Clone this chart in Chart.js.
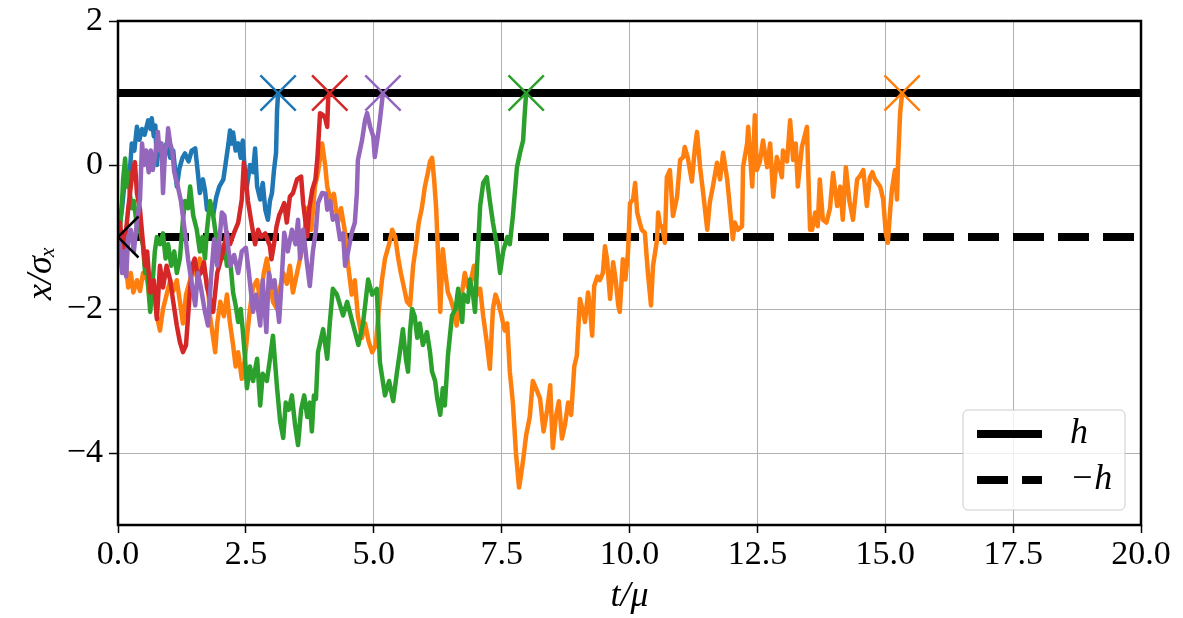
<!DOCTYPE html>
<html>
<head>
<meta charset="utf-8">
<script src="https://cdn.jsdelivr.net/npm/chart.js@4.4.1/dist/chart.umd.min.js"></script>
<style>
    html, body { margin: 0; padding: 0; background: #fff; }
    canvas { display: block; }
</style>
</head>
<body>
<canvas id="myChart" width="1183" height="618"></canvas>
<script>
// first-passage walks, [t/mu, x/sigma_x]
const blueWalk = [[0,-1],[0.04,-0.8],[0.08,-0.6],[0.12,-0.3],[0.17,-0.1],[0.22,-0.2],[0.27,0.3],[0.32,0.2],[0.37,0.53],[0.42,0.35],[0.47,0.5],[0.52,0.42],[0.59,0.62],[0.64,0.5],[0.66,0.65],[0.7,0.4],[0.73,0.55],[0.76,0.0],[0.8,0.3],[0.84,0.15],[0.88,0.2],[0.95,0.3],[1.02,0.1],[1.08,0.2],[1.12,-0.1],[1.15,-0.3],[1.2,-0.05],[1.26,0.1],[1.31,0.16],[1.38,0.05],[1.44,0.2],[1.51,0.23],[1.56,-0.1],[1.6,-0.39],[1.66,-0.2],[1.7,-0.35],[1.74,-0.62],[1.8,-0.55],[1.86,-0.7],[1.92,-0.45],[1.98,-0.3],[2.06,-0.2],[2.12,0.1],[2.16,0.3],[2.19,0.48],[2.22,0.3],[2.25,0.45],[2.3,0.2],[2.35,0.3],[2.4,0.1],[2.44,0.34],[2.48,-0.1],[2.52,-0.3],[2.58,0.0],[2.64,-0.1],[2.68,0.23],[2.72,-0.3],[2.78,-0.48],[2.83,-0.25],[2.88,-0.62],[2.93,-0.76],[2.97,-0.5],[3.01,-0.39],[3.05,-0.07],[3.09,0.17],[3.11,0.76],[3.13,1]];

const orangeWalk = [[0,-1],[0.04,-1.2],[0.1,-1.5],[0.14,-1.3],[0.2,-1.7],[0.25,-1.5],[0.3,-1.77],[0.37,-1.6],[0.43,-1.75],[0.49,-1.5],[0.57,-1.6],[0.63,-1.9],[0.7,-1.7],[0.76,-2.1],[0.82,-2.3],[0.88,-2.0],[0.95,-1.8],[1.02,-1.6],[1.08,-1.75],[1.15,-1.6],[1.21,-1.9],[1.27,-2.2],[1.33,-1.8],[1.41,-1.6],[1.47,-1.4],[1.54,-1.55],[1.6,-1.3],[1.7,-1.5],[1.76,-1.7],[1.8,-2.1],[1.86,-2.4],[1.9,-2.6],[1.94,-2.2],[2.0,-1.9],[2.07,-2.1],[2.13,-1.8],[2.19,-2.2],[2.25,-2.5],[2.3,-2.8],[2.35,-2.6],[2.42,-2.97],[2.48,-2.7],[2.52,-2.4],[2.58,-2.0],[2.64,-1.7],[2.72,-1.6],[2.78,-1.9],[2.85,-1.5],[2.91,-1.3],[2.97,-1.6],[3.03,-1.9],[3.11,-2.0],[3.17,-1.7],[3.23,-1.5],[3.3,-1.65],[3.36,-1.4],[3.42,-1.77],[3.5,-1.5],[3.56,-1.3],[3.62,-1.1],[3.7,-0.6],[3.78,-0.9],[3.85,-0.3],[3.91,-0.1],[3.99,0.3],[4.05,0.0],[4.09,-0.3],[4.16,-0.5],[4.22,-0.4],[4.3,-0.8],[4.36,-0.6],[4.44,-0.94],[4.5,-1.4],[4.57,-1.8],[4.63,-1.6],[4.69,-2.1],[4.77,-2.4],[4.83,-2.2],[4.9,-2.45],[4.97,-2.6],[5.04,-2.5],[5.1,-2.0],[5.16,-1.6],[5.22,-1.3],[5.3,-1.1],[5.36,-0.9],[5.42,-1.0],[5.48,-1.3],[5.53,-1.5],[5.59,-1.7],[5.65,-1.9],[5.71,-1.95],[5.77,-1.4],[5.83,-1.1],[5.88,-0.8],[5.94,-0.6],[6.0,-0.3],[6.06,-0.1],[6.1,0.05],[6.14,0.1],[6.18,-0.2],[6.22,-0.6],[6.26,-1.3],[6.3,-2.04],[6.35,-1.17],[6.4,-1.5],[6.45,-1.77],[6.5,-1.86],[6.56,-2.0],[6.62,-2.23],[6.7,-1.9],[6.78,-1.5],[6.84,-1.7],[6.9,-1.6],[6.96,-1.4],[7.02,-1.8],[7.08,-1.72],[7.14,-2.1],[7.2,-2.41],[7.27,-2.83],[7.33,-2.0],[7.38,-1.8],[7.43,-1.9],[7.5,-2.1],[7.56,-2.3],[7.61,-2.2],[7.66,-2.87],[7.72,-3.3],[7.78,-4.0],[7.84,-4.48],[7.88,-4.3],[7.92,-4.1],[7.98,-3.75],[8.05,-3.5],[8.11,-3.0],[8.17,-3.1],[8.25,-3.24],[8.32,-3.7],[8.39,-3.4],[8.45,-3.06],[8.5,-3.93],[8.56,-3.5],[8.62,-3.28],[8.68,-3.8],[8.74,-3.6],[8.8,-3.3],[8.86,-3.47],[8.92,-2.8],[8.97,-2.65],[9.03,-1.86],[9.08,-2.0],[9.13,-2.18],[9.19,-1.77],[9.23,-2.0],[9.27,-2.37],[9.31,-1.68],[9.37,-1.55],[9.42,-1.6],[9.48,-1.5],[9.52,-1.13],[9.56,-1.3],[9.62,-1.86],[9.68,-1.35],[9.73,-1.6],[9.78,-1.95],[9.81,-2.04],[9.87,-1.31],[9.92,-1.59],[9.97,-1.22],[10.01,-0.53],[10.07,-0.48],[10.11,-0.25],[10.15,-0.66],[10.2,-0.8],[10.24,-0.9],[10.3,-0.94],[10.36,-1.5],[10.42,-1.95],[10.46,-1.4],[10.54,-1.03],[10.56,-0.66],[10.6,-0.85],[10.64,-0.85],[10.69,-1.08],[10.73,-0.17],[10.79,-0.07],[10.85,-0.71],[10.93,-0.44],[10.99,0.07],[11.05,0.11],[11.08,0.25],[11.14,0.1],[11.22,-0.23],[11.28,0.25],[11.32,0.46],[11.38,-0.03],[11.44,-0.39],[11.52,-0.9],[11.57,-0.52],[11.63,-0.3],[11.71,0.03],[11.77,-0.2],[11.83,0.17],[11.91,-0.2],[11.96,-0.57],[12.02,-1.03],[12.06,-0.8],[12.12,-0.9],[12.2,-0.85],[12.22,-0.03],[12.3,0.3],[12.32,0.53],[12.4,-0.3],[12.45,0.69],[12.49,-0.07],[12.55,0.05],[12.61,0.34],[12.69,-0.03],[12.75,0.3],[12.81,-0.44],[12.88,0.11],[12.98,-0.17],[13.0,0.2],[13.08,0.05],[13.14,0.62],[13.2,0.07],[13.25,0.3],[13.29,-0.3],[13.37,0.25],[13.47,0.53],[13.49,0.0],[13.53,-0.9],[13.57,-0.9],[13.63,-0.66],[13.68,-0.85],[13.72,-0.2],[13.78,-0.76],[13.85,-0.8],[13.92,-0.6],[13.98,-0.11],[14.06,-0.57],[14.12,-0.3],[14.17,-0.76],[14.23,-0.03],[14.3,-0.5],[14.37,-0.76],[14.45,-0.2],[14.51,-0.15],[14.57,-0.07],[14.64,-0.57],[14.7,-0.17],[14.75,-0.1],[14.8,-0.2],[14.9,-0.3],[14.96,-0.48],[15.01,-0.94],[15.05,-1.08],[15.1,-0.6],[15.13,-0.34],[15.19,-0.07],[15.23,-0.48],[15.25,0.03],[15.29,0.72],[15.33,1]];

const greenWalk = [[0,-1],[0.04,-0.86],[0.08,-0.5],[0.1,-0.2],[0.14,0.09],[0.17,-0.3],[0.2,-0.1],[0.23,-0.39],[0.27,-0.6],[0.31,-0.5],[0.37,-0.85],[0.43,-0.9],[0.49,-1.13],[0.53,-1.5],[0.57,-1.4],[0.6,-1.77],[0.63,-2.04],[0.68,-1.6],[0.72,-1.2],[0.76,-1.0],[0.82,-1.1],[0.88,-0.95],[0.93,-1.3],[0.98,-1.1],[1.04,-1.4],[1.1,-1.2],[1.15,-1.5],[1.21,-1.3],[1.27,-0.76],[1.31,-0.5],[1.37,-0.6],[1.41,-0.3],[1.47,-0.7],[1.54,-0.9],[1.6,-1.2],[1.65,-1.0],[1.7,-1.3],[1.74,-0.9],[1.8,-0.5],[1.86,-0.7],[1.92,-1.0],[1.98,-1.1],[2.03,-1.3],[2.08,-1.1],[2.13,-1.4],[2.19,-1.3],[2.25,-1.77],[2.3,-1.95],[2.35,-2.18],[2.4,-2.0],[2.44,-2.3],[2.48,-2.65],[2.52,-3.1],[2.58,-2.8],[2.64,-3.0],[2.72,-2.69],[2.78,-3.34],[2.83,-2.9],[2.91,-3.0],[2.97,-2.7],[3.03,-2.37],[3.11,-3.1],[3.17,-3.56],[3.23,-3.79],[3.28,-3.3],[3.34,-3.4],[3.4,-3.2],[3.46,-3.6],[3.52,-3.89],[3.58,-3.4],[3.64,-3.2],[3.7,-3.5],[3.75,-3.3],[3.79,-3.7],[3.83,-3.2],[3.87,-3.25],[3.91,-2.6],[4.01,-2.28],[4.09,-2.69],[4.14,-2.2],[4.2,-1.72],[4.28,-1.8],[4.4,-2.09],[4.48,-1.9],[4.6,-2.23],[4.7,-2.5],[4.79,-2.2],[4.89,-1.59],[4.97,-1.8],[5.06,-1.72],[5.12,-2.74],[5.22,-3.2],[5.3,-3.0],[5.38,-3.28],[5.45,-2.9],[5.51,-2.6],[5.57,-2.28],[5.63,-2.7],[5.67,-2.87],[5.71,-2.3],[5.75,-2.0],[5.8,-2.1],[5.85,-2.4],[5.9,-2.2],[5.96,-2.5],[6.04,-2.32],[6.1,-2.6],[6.14,-2.87],[6.2,-3.0],[6.24,-3.24],[6.3,-3.47],[6.35,-3.1],[6.39,-3.34],[6.45,-2.65],[6.53,-2.09],[6.6,-2.0],[6.65,-1.72],[6.73,-2.18],[6.76,-1.8],[6.84,-1.9],[6.88,-1.59],[6.94,-1.8],[6.98,-2.04],[7.02,-1.4],[7.08,-0.57],[7.14,-0.25],[7.21,-0.17],[7.27,-0.5],[7.33,-0.8],[7.41,-1.13],[7.47,-1.5],[7.53,-1.2],[7.61,-1.0],[7.66,-1.1],[7.72,-0.71],[7.8,-0.03],[7.86,0.17],[7.92,0.34],[7.95,0.7],[7.98,1]];

const redWalk = [[0,-1],[0.04,-0.8],[0.08,-1.1],[0.12,-1.3],[0.16,-0.9],[0.2,-0.6],[0.25,-0.3],[0.29,-0.07],[0.33,0.04],[0.37,-0.39],[0.43,-0.62],[0.47,-0.94],[0.53,-1.4],[0.57,-1.2],[0.63,-1.77],[0.7,-1.6],[0.76,-2.14],[0.82,-1.4],[0.88,-1.7],[0.95,-1.4],[1.02,-1.6],[1.08,-1.9],[1.15,-2.23],[1.21,-2.46],[1.27,-2.6],[1.33,-2.5],[1.39,-1.9],[1.45,-1.4],[1.5,-1.3],[1.56,-1.55],[1.62,-1.5],[1.68,-1.35],[1.74,-1.7],[1.8,-1.86],[1.86,-2.04],[1.94,-1.5],[2.03,-1.27],[2.13,-0.94],[2.19,-1.1],[2.27,-0.94],[2.35,-0.8],[2.42,-0.48],[2.46,0.03],[2.5,-0.2],[2.54,-0.5],[2.62,-0.85],[2.68,-1.1],[2.74,-0.9],[2.8,-1.0],[2.88,-0.95],[2.97,-1.13],[3.0,-1.31],[3.05,-1.1],[3.1,-0.85],[3.15,-0.7],[3.2,-0.62],[3.25,-0.53],[3.3,-0.8],[3.36,-0.44],[3.42,-0.39],[3.5,-0.2],[3.58,-0.16],[3.62,-0.53],[3.7,-0.99],[3.74,-0.6],[3.8,-0.34],[3.86,-0.2],[3.9,0.11],[3.95,0.72],[4.0,0.7],[4.05,0.65],[4.09,0.53],[4.11,0.94],[4.14,1]];

const purpleWalk = [[0,-1],[0.04,-1.13],[0.08,-1.5],[0.12,-1.2],[0.16,-1.55],[0.2,-1.0],[0.25,-0.9],[0.31,-1.2],[0.37,-0.8],[0.43,-0.48],[0.47,0.3],[0.51,0.0],[0.55,0.2],[0.6,-0.1],[0.64,0.2],[0.68,-0.07],[0.72,0.1],[0.78,0.46],[0.81,0.2],[0.85,0.3],[0.88,-0.39],[0.92,0.2],[0.96,0.3],[0.98,0.51],[1.02,0.3],[1.06,0.2],[1.1,-0.1],[1.17,-0.3],[1.23,-0.5],[1.31,-0.94],[1.37,-1.31],[1.45,-1.68],[1.51,-1.95],[1.56,-1.5],[1.62,-1.7],[1.7,-2.04],[1.76,-2.23],[1.82,-1.55],[1.88,-1.03],[1.94,-1.4],[2.03,-0.66],[2.08,-0.7],[2.15,-1.13],[2.2,-1.4],[2.27,-1.25],[2.35,-1.5],[2.42,-1.2],[2.5,-1.15],[2.56,-1.5],[2.64,-2.04],[2.7,-1.8],[2.78,-2.23],[2.83,-1.6],[2.9,-2.32],[2.95,-1.5],[3.01,-1.7],[3.06,-1.6],[3.15,-2.18],[3.2,-1.6],[3.25,-0.94],[3.32,-1.2],[3.4,-0.9],[3.47,-1.1],[3.52,-0.76],[3.56,-1.3],[3.62,-0.9],[3.7,-1.4],[3.75,-1.68],[3.81,-1.2],[3.87,-0.9],[3.91,-0.53],[3.99,-0.39],[4.06,-0.4],[4.09,-0.62],[4.15,-0.5],[4.2,-0.76],[4.27,-0.7],[4.34,-1.03],[4.4,-0.95],[4.44,-1.4],[4.5,-1.2],[4.57,-0.94],[4.63,-0.8],[4.67,-0.39],[4.69,0.07],[4.77,0.34],[4.83,0.62],[4.87,0.72],[4.93,0.53],[4.99,0.4],[5.02,0.11],[5.08,0.4],[5.12,0.62],[5.18,1]];

// threshold levels and start point
const hLevels = [1, -1];
const legendLabels = ['h', '\u2212h'];
const startPoint = [0, -1];

// axes
const xMin = 0, xMax = 20, xStep = 2.5;
const yMin = -5, yMax = 2, yStep = 2;

const walkColors = ['#1f77b4', '#ff7f0e', '#2ca02c', '#d62728', '#9467bd'];
const walks = [blueWalk, orangeWalk, greenWalk, redWalk, purpleWalk];

const SERIF = "'Liberation Serif', 'DejaVu Serif', serif";

function toXY(walk) {
    return walk.map(p => ({ x: p[0], y: p[1] }));
}

// matplotlib draws later lines on top; chart.js draws lower "order" on top
const walkSets = walks.map((walk, i) => ({
    label: 'walk' + i,
    data: toXY(walk),
    showLine: true,
    borderColor: walkColors[i],
    borderWidth: 4.5,
    borderJoinStyle: 'round',
    pointRadius: 0,
    tension: 0,
    order: 10 - i
}));

const hSets = hLevels.map((lvl, i) => ({
    label: legendLabels[i],
    data: [{ x: xMin, y: lvl }, { x: xMax, y: lvl }],
    showLine: true,
    borderColor: '#000',
    borderWidth: 8,
    borderDash: i === 0 ? [] : [31, 14],
    borderDashOffset: 5,
    pointRadius: 0,
    order: 20
}));

const endSet = {
    label: 'ends',
    data: walks.map(w => ({ x: w[w.length - 1][0], y: w[w.length - 1][1] })),
    pointStyle: 'crossRot',
    pointRadius: 25,
    pointBorderWidth: 2.5,
    pointBorderColor: walkColors,
    pointBackgroundColor: 'rgba(0,0,0,0)',
    order: 1
};

const startSet = {
    label: 'start',
    data: [{ x: startPoint[0], y: startPoint[1] }],
    pointStyle: 'crossRot',
    pointRadius: 29,
    pointBorderWidth: 2.5,
    pointBorderColor: '#000',
    pointBackgroundColor: 'rgba(0,0,0,0)',
    clip: 0,
    order: 0
};

const frame = {
    id: 'frame',
    afterDatasetsDraw(chart) {
        const { ctx, chartArea: a } = chart;
        ctx.save();
        ctx.strokeStyle = '#000';
        ctx.lineWidth = 2.5;
        ctx.strokeRect(a.left, a.top, a.right - a.left, a.bottom - a.top);
        ctx.restore();
    }
};

const legendBox = {
    id: 'legendBox',
    afterDraw(chart) {
        const { ctx, chartArea: a } = chart;
        const w = 162, h = 100;
        const x0 = a.right - 16 - w, y0 = a.bottom - 15 - h;
        ctx.save();
        ctx.beginPath();
        ctx.roundRect(x0, y0, w, h, 5);
        ctx.fillStyle = 'rgba(255,255,255,0.8)';
        ctx.fill();
        ctx.strokeStyle = '#cccccc';
        ctx.lineWidth = 1;
        ctx.stroke();
        hSets.forEach((ds, i) => {
            const yy = y0 + 24 + i * 46;
            ctx.beginPath();
            ctx.setLineDash(ds.borderDash);
            ctx.lineDashOffset = 0;
            ctx.strokeStyle = '#000';
            ctx.lineWidth = 8;
            ctx.moveTo(x0 + 14, yy);
            ctx.lineTo(x0 + 79, yy);
            ctx.stroke();
            ctx.setLineDash([]);
            ctx.fillStyle = '#000';
            ctx.font = 'italic 36px ' + SERIF;
            ctx.textBaseline = 'middle';
            ctx.fillText(ds.label, x0 + 107, yy);
        });
        ctx.restore();
    }
};

const chart = new Chart(document.getElementById('myChart'), {
    type: 'scatter',
    data: { datasets: [...hSets, ...walkSets, endSet, startSet] },
    options: {
        responsive: false,
        animation: false,
        events: [],
        layout: { autoPadding: false, padding: { top: 21, right: 42, bottom: 0, left: 0 } },
        plugins: { legend: { display: false }, tooltip: { enabled: false } },
        scales: {
            x: {
                type: 'linear',
                min: xMin, max: xMax,
                border: { display: false },
                grid: { color: '#b0b0b0', lineWidth: 1, tickColor: '#000', tickLength: 8, tickWidth: 1.5 },
                ticks: {
                    stepSize: xStep, color: '#000', padding: 2, maxRotation: 0,
                    font: { family: SERIF, size: 34 },
                    callback: v => v.toFixed(1)
                },
                title: { display: true, text: 't/\u03bc', color: '#000', padding: { top: 0, bottom: 0 },
                    font: { family: SERIF, size: 36, style: 'italic' } },
                afterFit(scale) {
                    scale.height = 93;
                    scale.paddingLeft = 0;
                    scale.paddingRight = 0;
                }
            },
            y: {
                type: 'linear',
                min: yMin, max: yMax,
                border: { display: false },
                grid: { color: '#b0b0b0', lineWidth: 1, tickColor: '#000', tickLength: 9, tickWidth: 1.5 },
                ticks: {
                    stepSize: yStep, includeBounds: false, color: '#000', padding: 6,
                    font: { family: SERIF, size: 34 },
                    callback: v => v < 0 ? '\u2212' + Math.abs(v) : String(v)
                },
                title: { display: true, text: 'x/\u03c3\u2093', color: '#000', padding: { top: 20, bottom: 0 },
                    font: { family: SERIF, size: 36, style: 'italic' } },
                afterFit(scale) {
                    scale.width = 118;
                    scale.paddingTop = 0;
                    scale.paddingBottom = 0;
                }
            }
        }
    },
    plugins: [frame, legendBox]
});
</script>
</body>
</html>
